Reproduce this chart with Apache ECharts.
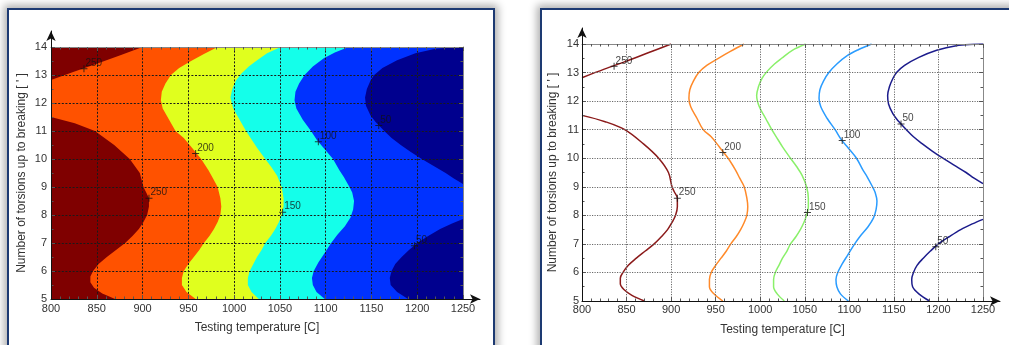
<!DOCTYPE html>
<html><head><meta charset="utf-8">
<script src="https://cdn.jsdelivr.net/npm/echarts/dist/echarts.min.js"></script>
<style>
html,body{margin:0;padding:0;background:#fff;overflow:hidden;width:1009px;height:345px;}
.frame{position:absolute;top:8px;height:360px;border:2px solid #1d3a72;background:#fff;box-shadow:0 0 8px 3px rgba(0,0,0,0.32);}
#chart{position:absolute;left:0;top:0;width:1009px;height:345px;}
</style></head><body>
<div class="frame" style="left:7px;width:484px"></div>
<div class="frame" style="left:540px;width:480px"></div>
<div id="chart"></div>
<script>
// ---- tick values ----
const xTicks = [800, 850, 900, 950, 1000, 1050, 1100, 1150, 1200, 1250];
const yTicks = [5, 6, 7, 8, 9, 10, 11, 12, 13, 14];
const levels = [250, 200, 150, 100, 50];

// ---- contour lines [temperature, torsions] ----
const c250a = [[870,5.0],[856,5.2],[847,5.4],[843,5.6],[843,5.8],[846,6.0],[852,6.25],[861,6.5],[871,6.75],[881,7.0],[889,7.25],[896,7.5],[901,7.75],[905,8.0],[907,8.3],[907,8.6],[904,8.8],[901,9.0],[897,9.5],[886,10.0],[869,10.5],[848,11.0],[826,11.28],[800,11.5]];
const c250b = [[800,12.82],[825,13.12],[850,13.4],[875,13.7],[900,14.0]];
const c200 = [[958,5.0],[948,5.25],[943,5.5],[943,5.75],[945,6.0],[950,6.25],[956,6.5],[962,6.75],[967,7.0],[973,7.25],[978,7.5],[982,7.75],[985,8.0],[986,8.3],[985,8.6],[982,9.0],[977,9.3],[972,9.6],[964,10.0],[954,10.4],[945,10.75],[936,11.0],[929,11.4],[922,11.8],[920,12.1],[921,12.4],[925,12.7],[931,13.0],[940,13.25],[953,13.5],[967,13.75],[982,14.0]];
const c150 = [[1027,5.0],[1019,5.25],[1015,5.5],[1015,5.75],[1017,6.0],[1021,6.25],[1025,6.5],[1030,6.75],[1034,7.0],[1040,7.25],[1045,7.5],[1049,7.75],[1052,8.0],[1054,8.3],[1054,8.6],[1052,9.0],[1047,9.4],[1041,9.7],[1034,10.0],[1025,10.4],[1018,10.75],[1013,11.0],[1006,11.4],[999,11.8],[996,12.2],[998,12.5],[1002,12.8],[1008,13.05],[1016,13.3],[1024,13.5],[1036,13.78],[1051,14.0]];
const c100 = [[1099,5.0],[1090,5.25],[1086,5.5],[1085,5.75],[1087,6.0],[1092,6.3],[1098,6.6],[1106,7.0],[1113,7.3],[1121,7.6],[1127,7.9],[1130,8.2],[1131,8.5],[1129,8.8],[1126,9.0],[1120,9.35],[1115,9.6],[1108,10.0],[1099,10.35],[1091,10.65],[1084,11.0],[1075,11.4],[1068,11.8],[1066,12.1],[1067,12.4],[1071,12.7],[1077,13.0],[1086,13.3],[1098,13.6],[1110,13.8],[1125,14.0]];
const c50a = [[1190,5.0],[1178,5.25],[1171,5.5],[1170,5.75],[1172,6.0],[1176,6.25],[1183,6.5],[1191,6.75],[1200,7.0],[1212,7.25],[1225,7.5],[1238,7.7],[1250,7.86]];
const c50b = [[1250,9.11],[1240,9.3],[1231,9.5],[1218,9.75],[1205,10.0],[1193,10.25],[1182,10.5],[1172,10.75],[1164,11.0],[1155,11.3],[1149,11.55],[1144,11.9],[1143,12.2],[1145,12.5],[1149,12.8],[1153,13.0],[1162,13.25],[1178,13.53],[1198,13.78],[1220,13.94],[1240,13.99],[1250,14.0]];

// contour label anchors [temperature, torsions, text]
const contourLabels = [[836,13.22,'250'],[907,8.6,'250'],[958,10.2,'200'],[1053,8.1,'150'],[1092,10.62,'100'],[1158,11.2,'50'],[1197,6.9,'50']];

// ---- colours ----
const bandColors = ['#7f0000','#ff5200','#e0ff1e','#14ffea','#0032ff','#00008e'];
const lineColors = ['#8b1a1a','#ff8a2a','#8af06a','#2a9cff','#1c1c8c'];

const xMin = xTicks[0], xMax = xTicks[xTicks.length-1], xInt = xTicks[1]-xTicks[0];
const yMin = yTicks[0], yMax = yTicks[yTicks.length-1], yInt = yTicks[1]-yTicks[0];
const corners = [[xMax,yMax],[xMax,yMin]];

// band polygons: painter's order, each covers the region right of its contour
const bandPolys = [
  [[xMin,yMin],[xMin,yMax],[xMax,yMax],[xMax,yMin]],
  c250a.concat(c250b, corners),
  c200.concat(corners),
  c150.concat(corners),
  c100.concat(corners),
  c50a.concat(c50b, [[xMax,yMin]])
];
const lineSets = [[c250a,c250b],[c200],[c150],[c100],[c50a,c50b]];

const FONT = 'Liberation Sans';
const TXT = '#333';
const plain = v => String(v);

function mainX(grid, gap, margin, split){
  return {type:'value', gridIndex:grid, min:xMin, max:xMax, interval:xInt, position:'bottom', z:5,
    name:'Testing temperature [C]', nameLocation:'middle', nameGap:gap,
    nameTextStyle:{fontFamily:FONT, fontSize:12, color:TXT},
    axisLine:{show:false},
    axisTick:{show:true, inside:true, length:4, lineStyle:{color:'#555'}},
    minorTick:{show:true, splitNumber:5, length:2.5, lineStyle:{color:'#555'}},
    axisLabel:{margin:margin, fontFamily:FONT, fontSize:11, color:TXT, formatter:plain},
    splitLine:{show:true, lineStyle:split}};
}
function mainY(grid, gap, margin, split){
  return {type:'value', gridIndex:grid, min:yMin, max:yMax, interval:yInt, position:'left', z:5,
    name:"Number of torsions up to breaking [ ' ]", nameLocation:'middle', nameGap:gap,
    nameTextStyle:{fontFamily:FONT, fontSize:12, color:TXT},
    axisLine:{show:false},
    axisTick:{show:true, inside:true, length:4, lineStyle:{color:'#555'}},
    minorTick:{show:true, splitNumber:2, length:2.5, lineStyle:{color:'#555'}},
    axisLabel:{margin:margin, fontFamily:FONT, fontSize:11, color:TXT, formatter:plain},
    splitLine:{show:true, lineStyle:split}};
}
function sideX(grid){
  return {type:'value', gridIndex:grid, min:xMin, max:xMax, interval:xInt, position:'top', z:5,
    axisLine:{show:true, lineStyle:{color:'#888'}},
    axisTick:{show:true, inside:true, length:4, lineStyle:{color:'#555'}},
    minorTick:{show:true, splitNumber:5, length:2.5, lineStyle:{color:'#555'}},
    axisLabel:{show:false}, splitLine:{show:false}};
}
function sideY(grid){
  return {type:'value', gridIndex:grid, min:yMin, max:yMax, interval:yInt, position:'right', z:5,
    axisLine:{show:true, lineStyle:{color:'#888'}},
    axisTick:{show:true, inside:true, length:4, lineStyle:{color:'#555'}},
    minorTick:{show:true, splitNumber:2, length:2.5, lineStyle:{color:'#555'}},
    axisLabel:{show:false}, splitLine:{show:false}};
}
function arrowAxis(grid, pos){
  return {type:'value', gridIndex:grid, min:0, max:1, position:pos, z:6,
    axisLine:{show:true, onZero:false, symbol:['none','arrow'], symbolSize:[7,10], lineStyle:{color:'#111', width:1}},
    axisTick:{show:false}, axisLabel:{show:false}, splitLine:{show:false}};
}

const leftSplit = {color:'#1a1a1a', type:[2,1.6], width:1};
const rightSplit = {color:'#6a6a6a', type:[1.2,1.3], width:1};

const plusSymbol = 'path://M4.3,0H5.7V10H4.3ZM0,4.3H10V5.7H0Z';
function labelSeries(xi, yi){
  return {type:'scatter', xAxisIndex:xi, yAxisIndex:yi, z:8, symbol:plusSymbol, symbolSize:7,
    itemStyle:{color:'#111'}, silent:true,
    label:{show:true, position:[5,-7], formatter:p=>p.value[2], fontFamily:FONT, fontSize:10, color:'#111'},
    data:contourLabels};
}

const series = [];
series.push({type:'custom', xAxisIndex:0, yAxisIndex:0, z:1, silent:true,
  data: bandPolys.map(p => p[0]),
  renderItem: (params, api) => ({type:'polygon',
    shape:{points: bandPolys[params.dataIndex].map(p => api.coord(p))},
    style:{fill: bandColors[params.dataIndex]}})
});
series.push(labelSeries(0,0));
lineSets.forEach((pieces, k) => {
  pieces.forEach(piece => {
    series.push({type:'line', xAxisIndex:4, yAxisIndex:4, name:String(levels[k]), data:piece,
      showSymbol:false, smooth:0.35, silent:true, z:3,
      lineStyle:{color:lineColors[k], width:1.5}});
  });
});
series.push(labelSeries(4,4));

const option = {
  animation:false,
  backgroundColor:'transparent',
  grid:[
    {left:51, top:47, width:412, height:252},
    {left:51, top:47, width:412, height:252},
    {left:51, top:31, width:429, height:268},
    {left:582, top:44, width:401, height:257},
    {left:582, top:44, width:401, height:257},
    {left:582, top:28, width:418, height:273}
  ],
  xAxis:[
    mainX(0, 23, 4, leftSplit), sideX(1), arrowAxis(2,'bottom'),
    mainX(3, 23, 3, rightSplit), sideX(4), arrowAxis(5,'bottom')
  ],
  yAxis:[
    mainY(0, 23, 4, leftSplit), sideY(1), arrowAxis(2,'left'),
    mainY(3, 23, 3, rightSplit), sideY(4), arrowAxis(5,'left')
  ],
  series: series
};
const chart = echarts.init(document.getElementById('chart'), null, {renderer:'canvas'});
chart.setOption(option);
</script>
</body></html>
